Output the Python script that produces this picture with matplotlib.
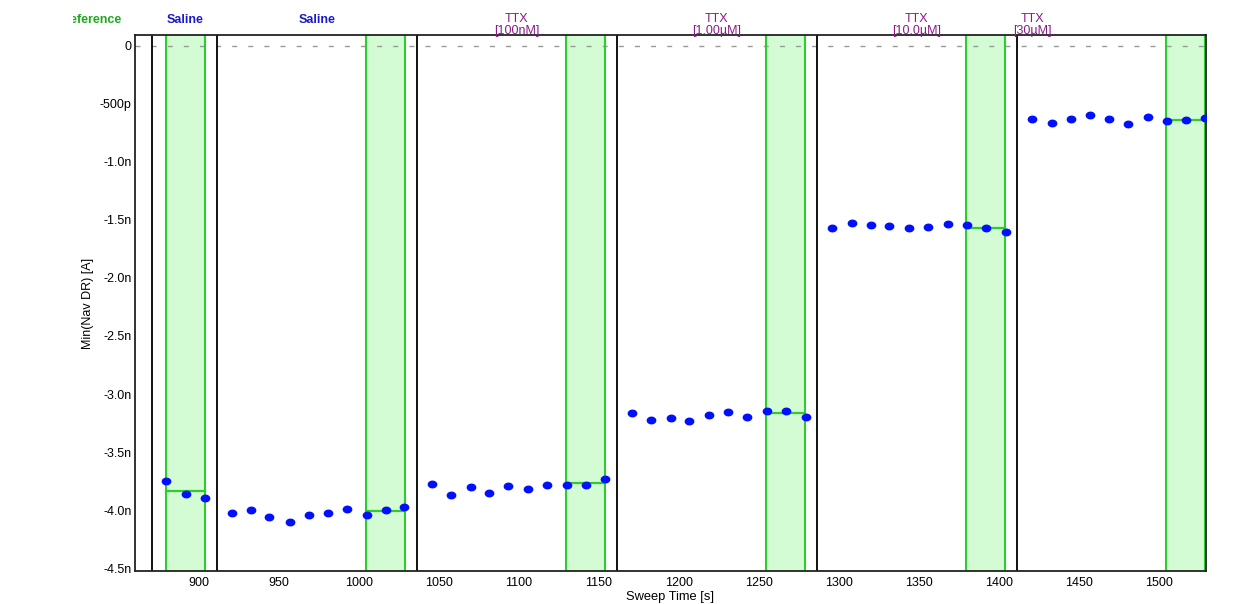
import numpy as np
import matplotlib
matplotlib.use('Agg')
import matplotlib.pyplot as plt
from matplotlib.path import Path
from matplotlib.transforms import Bbox, blended_transform_factory
from matplotlib.ticker import FuncFormatter

# sweep times [s] and Min(Nav DR) [nA], one list per condition
t_ref = [879.6, 891.7, 903.6]
v_ref = [-3.747, -3.862, -3.897]
t_sal = [920.8, 932.5, 943.9, 956.9, 968.6, 980.8, 992.5, 1004.8, 1016.7, 1028.3]
v_sal = [-4.029, -4.003, -4.063, -4.101, -4.040, -4.023, -3.991, -4.046, -4.003, -3.977]
t_100n = [1045.6, 1057.5, 1069.8, 1081.4, 1093.3, 1105.6, 1117.5, 1129.8, 1141.7, 1153.9]
v_100n = [-3.779, -3.874, -3.805, -3.853, -3.790, -3.822, -3.784, -3.784, -3.784, -3.730]
t_1u = [1170.6, 1182.5, 1194.8, 1206.4, 1218.75, 1230.6, 1242.5, 1254.8, 1266.7, 1279.2]
v_1u = [-3.167, -3.227, -3.207, -3.230, -3.184, -3.158, -3.195, -3.149, -3.149, -3.195]
t_10u = [1295.6, 1307.9, 1319.8, 1331.4, 1343.75, 1355.6, 1367.9, 1379.8, 1391.7, 1404.2]
v_10u = [-1.569, -1.526, -1.543, -1.552, -1.569, -1.563, -1.537, -1.543, -1.569, -1.603]
t_30u = [1420.6, 1432.9, 1444.8, 1457.1, 1468.75, 1480.6, 1492.9, 1504.8, 1517.1, 1529.0]
v_30u = [-0.632, -0.664, -0.627, -0.595, -0.632, -0.670, -0.615, -0.647, -0.638, -0.621]

segment_starts = [870.6, 911.25, 1036.25, 1161.25, 1286.25, 1411.25]
band_starts = [879.4, 1004.5, 1129.4, 1254.4, 1379.4, 1504.4]
band_ends = [903.75, 1028.75, 1153.75, 1278.75, 1403.75, 1528.75]

labels = ['Reference', 'Saline', 'Saline', 'TTX\n[100nM]', 'TTX\n[1.00µM]', 'TTX\n[10.0µM]', 'TTX\n[30µM]']
label_x = [833, 891.25, 973.75, 1098.75, 1223.75, 1348.75, 1421]
label_colors = ['#1fa81f', '#1a1acc', '#1a1acc', '#8b1a8b', '#8b1a8b', '#8b1a8b', '#8b1a8b']

times = [t_ref, t_sal, t_100n, t_1u, t_10u, t_30u]
values = [v_ref, v_sal, v_100n, v_1u, v_10u, v_30u]

plt.rcParams['font.family'] = ['Liberation Sans', 'DejaVu Sans']

fig = plt.figure(figsize=(12.6, 6.04), dpi=100)
ax = fig.add_axes([0.1071, 0.0546, 0.85, 0.8875])

# slightly flattened dot like the original
th = np.linspace(0, 2 * np.pi, 40)
dot = Path(np.column_stack([np.cos(th), 0.78 * np.sin(th)]), closed=True)

green = '#2ecc2e'
for b0, b1 in zip(band_starts, band_ends):
    ax.axvspan(b0, b1, color='#d4fcd4', zorder=0, lw=0)
    ax.axvline(b0, color=green, lw=1.5, zorder=2)
    ax.axvline(b1, color=green, lw=1.5, zorder=2)

for s in segment_starts:
    ax.axvline(s, color='#111111', lw=1.4, zorder=2)

ax.axhline(0, color='#999999', lw=1, dashes=(3.6, 8), zorder=1)

for t, v, b0, b1 in zip(times, values, band_starts, band_ends):
    ax.plot(t, v, ls='none', marker=dot, ms=6, color='#0010ff', zorder=4)
    m = np.mean(v[-3:])
    ax.plot([b0, b1], [m, m], color=green, lw=1.6, zorder=3)

# condition labels above the plot; the left one is cut off like in the source
clip = Bbox.from_extents(73, 0, 1260, 604)
trans = blended_transform_factory(ax.transData, fig.transFigure)
for lab, x, c in zip(labels, label_x, label_colors):
    two = '\n' in lab
    txt = fig.text(x, 0.9785 if two else 0.9765, lab, transform=trans, ha='center', va='top',
                   color=c, fontsize=9, fontweight='normal' if two else 'bold',
                   linespacing=1.05)
    txt.set_clip_box(clip)
    txt.set_clip_on(True)

ax.set_xlim(860, 1529.4)
ax.set_ylim(-4.526, 0.095)
ax.set_xticks(np.arange(900, 1501, 50))
ax.set_yticks(np.arange(-4.5, 0.01, 0.5))


def fmt(v, pos):
    if abs(v) < 1e-9:
        return '0'
    if abs(v) < 1:
        return '%dp' % round(v * 1000)
    return '%.1fn' % v


ax.yaxis.set_major_formatter(FuncFormatter(fmt))
ax.tick_params(axis='x', length=0, labelsize=9, pad=4.5)
ax.tick_params(axis='y', length=0, labelsize=9, pad=2.5)
ax.set_xlabel('Sweep Time [s]', fontsize=9.3, labelpad=1.0)
ax.set_ylabel('Min(Nav DR) [A]', fontsize=9, labelpad=4)
for sp in ax.spines.values():
    sp.set_color('#222222')
    sp.set_linewidth(1.3)

fig.savefig('out.png', dpi=100)
